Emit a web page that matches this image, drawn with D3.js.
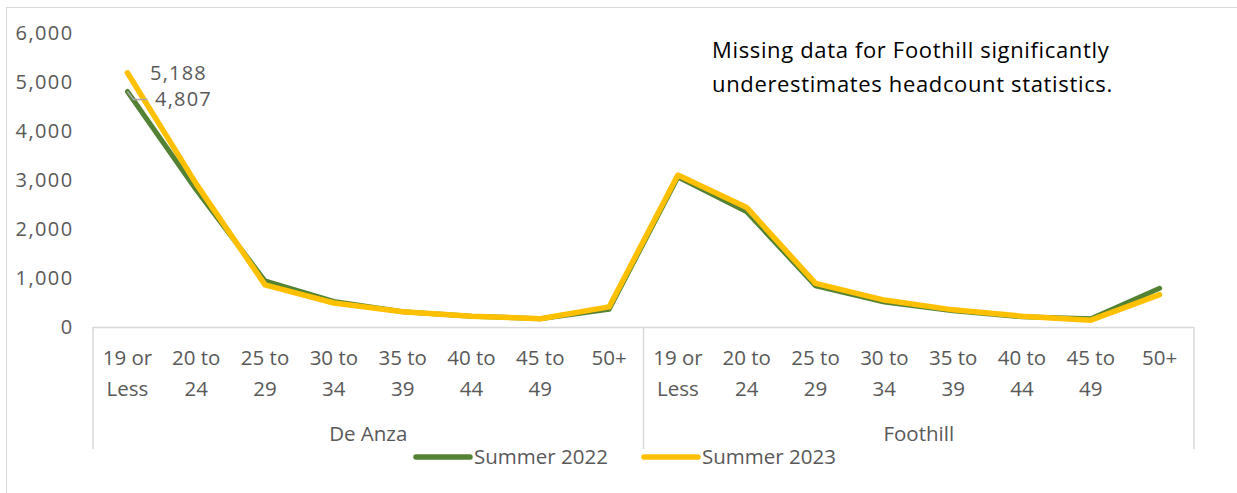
<!DOCTYPE html>
<html><head><meta charset="utf-8">
<script src="https://cdn.jsdelivr.net/npm/d3@7/dist/d3.min.js"></script>
<style>body{margin:0;background:#fff}svg{display:block}text{font-family:"Open Sans",sans-serif}</style>
</head><body><svg id="c" width="1237" height="493"></svg>
<script>
const groups = ["De Anza", "Foothill"];
const ageBands = ["19 or|Less", "20 to|24", "25 to|29", "30 to|34", "35 to|39", "40 to|44", "45 to|49", "50+"];
const summer2022 = [4807, 2800, 940, 520, 310, 220, 170, 360, 3060, 2350, 840, 510, 330, 210, 170, 790];
const summer2023 = [5188, 2920, 860, 490, 310, 220, 170, 410, 3100, 2440, 890, 550, 350, 220, 140, 660];
const yTicks = [0, 1000, 2000, 3000, 4000, 5000, 6000];
const seriesNames = ["Summer 2022", "Summer 2023"];
const colors = ["#548235", "#FFC000"];
const note = ["Missing data for Foothill significantly", "underestimates headcount statistics."];

const svg = d3.select("#c");
const cats = d3.range(groups.length * ageBands.length);
const x = d3.scaleBand().domain(cats).range([93, 1194]);
const y = d3.scaleLinear().domain([0, 6000]).range([327, 33]);
const cx = i => x(i) + x.bandwidth() / 2;
const axisCol = "#595959", lineCol = "#D9D9D9";
const fs = "20.5px";

svg.append("rect").attr("x", 6.5).attr("y", 7.5).attr("width", 1250).attr("height", 500)
  .attr("fill", "none").attr("stroke", lineCol);

// y axis labels
const ya = svg.append("g").attr("transform", "translate(73.5,0)")
  .call(d3.axisLeft(y).tickValues(yTicks).tickSize(0).tickPadding(0).tickFormat(d3.format(",")));
ya.select(".domain").remove();
ya.selectAll("text").attr("fill", axisCol).style("font-size", "20px").style("letter-spacing", "1.4px")
  .style("font-family", '"Open Sans",sans-serif');

// category axis frame
svg.append("line").attr("x1", 93).attr("x2", 1194).attr("y1", 327.5).attr("y2", 327.5).attr("stroke", lineCol).attr("stroke-width", 1.5);
[0, ageBands.length, cats.length].forEach(i => {
  const xx = i === cats.length ? x.range()[1] : x(i);
  svg.append("line").attr("x1", xx).attr("x2", xx).attr("y1", 327).attr("y2", 449).attr("stroke", lineCol).attr("stroke-width", 1.5);
});
cats.forEach(i => {
  const parts = ageBands[i % ageBands.length].split("|");
  const t = svg.append("text").attr("x", cx(i)).attr("y", 365).attr("text-anchor", "middle")
    .attr("fill", axisCol).style("font-size", fs);
  parts.forEach((p, k) => t.append("tspan").attr("x", cx(i)).attr("dy", k ? 31 : 0).text(p));
});
groups.forEach((g, gi) => {
  const a = x(gi * ageBands.length), b = gi === groups.length - 1 ? x.range()[1] : x((gi + 1) * ageBands.length);
  svg.append("text").attr("x", (a + b) / 2).attr("y", 441).attr("text-anchor", "middle")
    .attr("fill", axisCol).style("font-size", fs).text(g);
});

// lines
const line = d3.line().x((d, i) => cx(i)).y(d => y(d));
[summer2022, summer2023].forEach((s, k) => {
  svg.append("path").datum(s).attr("d", line).attr("fill", "none")
    .attr("stroke", colors[k]).attr("stroke-width", k ? 5.5 : 5).attr("stroke-linejoin", "round").attr("stroke-linecap", "round");
});

// data labels
svg.append("path").attr("d", `M${cx(0)},${y(summer2022[0])}L${cx(0) + 6},${y(summer2022[0]) + 8}H${cx(0) + 20}`)
  .attr("fill", "none").attr("stroke", "#A6A6A6").attr("stroke-width", 1.5);
svg.append("text").attr("x", 150).attr("y", 80).attr("fill", axisCol).style("font-size", "20px").style("letter-spacing", "1.2px").text(d3.format(",")(summer2023[0]));
svg.append("text").attr("x", 155).attr("y", 106).attr("fill", axisCol).style("font-size", "20px").style("letter-spacing", "1.2px").text(d3.format(",")(summer2022[0]));

// note
note.forEach((n, k) => svg.append("text").attr("x", 712).attr("y", 58 + k * 34).attr("fill", "#000")
  .style("font-size", "22px").style("letter-spacing", "0.65px").text(n));

// legend
const lx = [416, 644];
seriesNames.forEach((n, k) => {
  svg.append("line").attr("x1", lx[k]).attr("x2", lx[k] + 54).attr("y1", 457).attr("y2", 457)
    .attr("stroke", colors[k]).attr("stroke-width", 5.5).attr("stroke-linecap", "round");
  svg.append("text").attr("x", lx[k] + 58).attr("y", 464).attr("fill", axisCol).style("font-size", fs).text(n);
});
</script></body></html>
